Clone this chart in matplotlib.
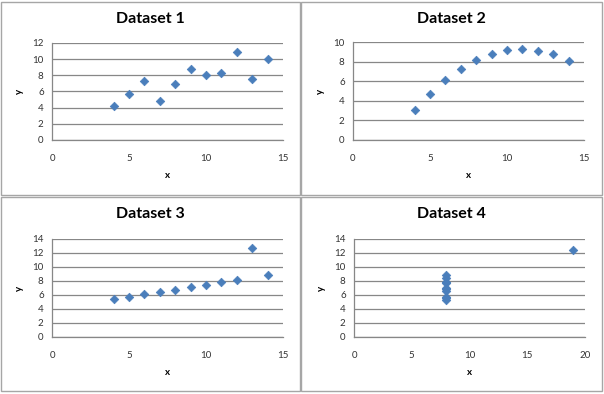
import matplotlib
matplotlib.use("Agg")
import matplotlib.pyplot as plt
from matplotlib.patches import Rectangle

x123 = [10, 8, 13, 9, 11, 14, 6, 4, 12, 7, 5]
y1 = [8.04, 6.95, 7.58, 8.81, 8.33, 9.96, 7.24, 4.26, 10.84, 4.82, 5.68]
y2 = [9.14, 8.14, 8.74, 8.77, 9.26, 8.10, 6.13, 3.10, 9.13, 7.26, 4.74]
y3 = [7.46, 6.77, 12.74, 7.11, 7.81, 8.84, 6.08, 5.39, 8.15, 6.42, 5.73]
x4 = [8, 8, 8, 8, 8, 8, 8, 19, 8, 8, 8]
y4 = [6.58, 5.76, 7.71, 8.84, 8.47, 7.04, 5.25, 12.50, 5.56, 7.91, 6.89]
titles = ["Dataset 1", "Dataset 2", "Dataset 3", "Dataset 4"]
xticks_list = [[0, 5, 10, 15], [0, 5, 10, 15], [0, 5, 10, 15], [0, 5, 10, 15, 20]]
yticks_list = [list(range(0, 13, 2)), list(range(0, 11, 2)), list(range(0, 15, 2)), list(range(0, 15, 2))]

W, H = 604, 394
plt.rcParams['font.family'] = ['Lato', 'DejaVu Sans']
fig = plt.figure(figsize=(W / 100, H / 100), dpi=100)

def fx(px):
    return px / W

def fy(py):
    return 1 - py / H

# panel frames (pixel boxes: left, top, right, bottom)
panels = [(1, 2, 300, 195), (301, 2, 602, 195), (1, 197, 300, 391), (301, 197, 602, 391)]
# plot areas (left, top, right, bottom)
areas = [(52, 43, 283, 140), (353, 42, 584, 140), (52, 239, 283, 337), (354, 239, 585, 337)]
datasets = [(x123, y1), (x123, y2), (x123, y3), (x4, y4)]

for (l, t, r, b) in panels:
    fig.patches.append(Rectangle((fx(l), fy(b)), fx(r - l), (b - t) / H,
                                 transform=fig.transFigure, fill=False,
                                 edgecolor="#A6A6A6", linewidth=1.0))

gray = "#878787"
for i in range(4):
    l, t, r, b = areas[i]
    ax = fig.add_axes([fx(l), fy(b), fx(r - l), (b - t) / H])
    xs, ys = datasets[i]
    ax.scatter(xs, ys, marker="D", s=19, color="#4A7EBB", edgecolors="#4A7EBB",
               linewidths=0.5, zorder=3)
    xt = xticks_list[i]
    yt = yticks_list[i]
    ax.set_xlim(xt[0], xt[-1])
    ax.set_ylim(yt[0], yt[-1])
    ax.set_xticks(xt)
    ax.set_yticks(yt)
    ax.yaxis.grid(True, color=gray, linewidth=0.9)
    ax.set_axisbelow(True)
    for s in ["top", "right"]:
        ax.spines[s].set_visible(False)
    for s in ["left", "bottom"]:
        ax.spines[s].set_color(gray)
        ax.spines[s].set_linewidth(0.9)
    ax.tick_params(axis="both", length=0, labelsize=7, colors="#333333")
    ax.tick_params(axis="x", pad=10)
    ax.tick_params(axis="y", pad=6)
    ax.set_xlabel("x", fontsize=7, fontweight="bold", labelpad=6)
    ax.set_ylabel("y", fontsize=7, fontweight="bold", labelpad=6)
    pl, pt, pr, pb = panels[i]
    fig.text(fx((pl + pr) / 2), fy(pt + 17), titles[i], ha="center", va="center",
             fontsize=11.5, fontweight="bold", color="#000000")

fig.savefig("out.png", dpi=100)
